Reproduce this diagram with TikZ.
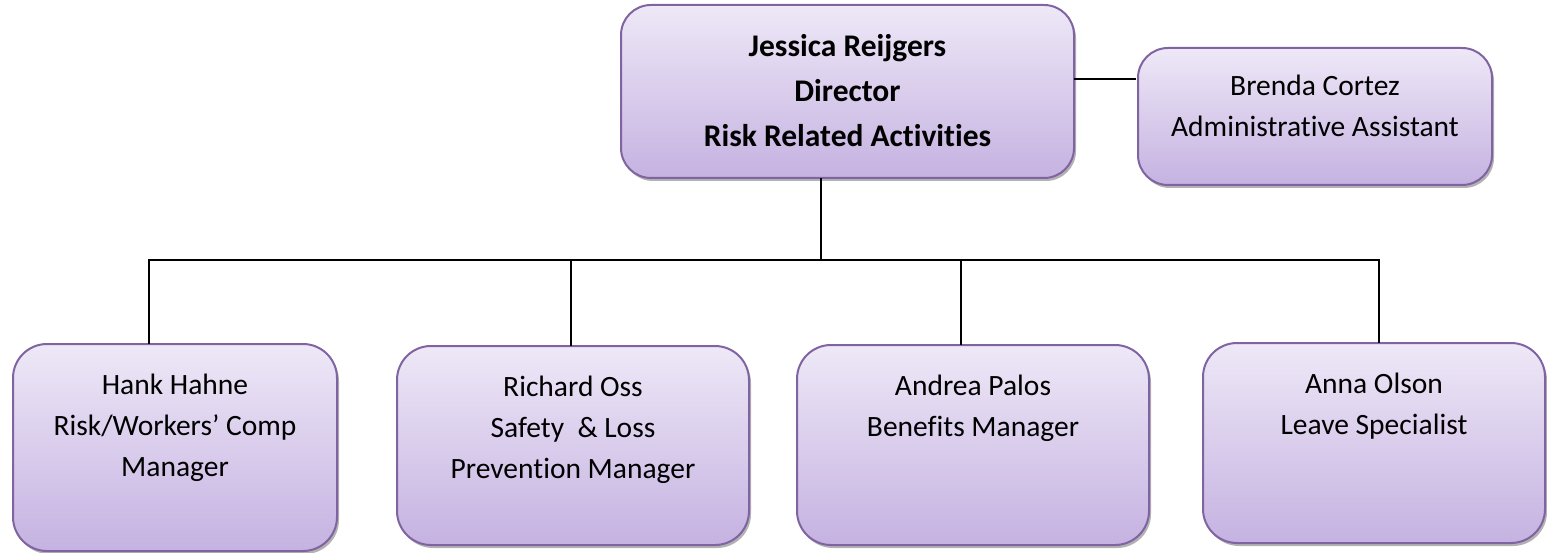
\documentclass[tikz,border=0pt]{standalone}
\usepackage{fontspec}
\setmainfont[Ligatures=NoCommon]{Carlito}
\usetikzlibrary{positioning,shadows}

\definecolor{boxtop}{HTML}{EEE8F7}
\definecolor{boxbot}{HTML}{C5B2E1}
\definecolor{boxline}{HTML}{8064A2}

\begin{document}
\begin{tikzpicture}[x=1pt, y=-1pt,
  box/.style={draw=boxline, line width=2pt, rounded corners=34pt, top color=boxtop, bottom color=boxbot,
    drop shadow={shadow xshift=2pt, shadow yshift=-3pt, fill=black, opacity=.3}},
  txt/.style={anchor=north, align=center, inner sep=0pt, font=\fontsize{29.5}{41}\selectfont},
  boss/.style={txt, font=\bfseries\fontsize{31.5}{45}\selectfont},
  link/.style={line width=2pt, line cap=rect}]
\useasboundingbox (0,0) rectangle (1547,553);
% boxes
\node[box, minimum width=453pt, minimum height=173pt, rounded corners=30pt] (dir) at (847.5,91.5) {};
\node[box, minimum width=354pt, minimum height=137pt, rounded corners=30pt] (asst) at (1315,116.5) {};
\node[box, minimum width=324pt, minimum height=207pt] (hank) at (175,447.5) {};
\node[box, minimum width=352pt, minimum height=199pt] (rich) at (573,445.5) {};
\node[box, minimum width=352pt, minimum height=200pt] (andrea) at (973,445) {};
\node[box, minimum width=342pt, minimum height=200pt] (anna) at (1374,443) {};
% texts
\node[boss] (dirt) at ([yshift=-30pt]dir.north) {Jessica Reijgers\\Director\\Risk Related Activities};
\node[txt] (asstt) at ([yshift=-28pt]asst.north) {Brenda Cortez\\Administrative Assistant};
\node[txt] (hankt) at ([yshift=-31pt]hank.north) {Hank Hahne\\Risk/Workers’ Comp\\Manager};
\node[txt] (richt) at ([yshift=-31pt]rich.north) {Richard Oss\\Safety~ \& Loss\\Prevention Manager};
\node[txt] (andreat) at ([yshift=-31pt]andrea.north) {Andrea Palos\\Benefits Manager};
\node[txt] (annat) at ([yshift=-31pt]anna.north) {Anna Olson\\Leave Specialist};
% connectors
\coordinate (side) at (1135,79);
\coordinate (bus) at (821,260);
\draw[link] (dir.east |- side) -- (side);
\draw[link] (dir.south -| bus) -- (bus);
\draw[link] (bus -| 149,0) -- (bus -| 1379,0);
\foreach \n/\x in {hank/149,rich/571,andrea/961,anna/1379}
  \draw[link] (bus -| \x,0) -- (\n.north -| \x,0);
\end{tikzpicture}
\end{document}
